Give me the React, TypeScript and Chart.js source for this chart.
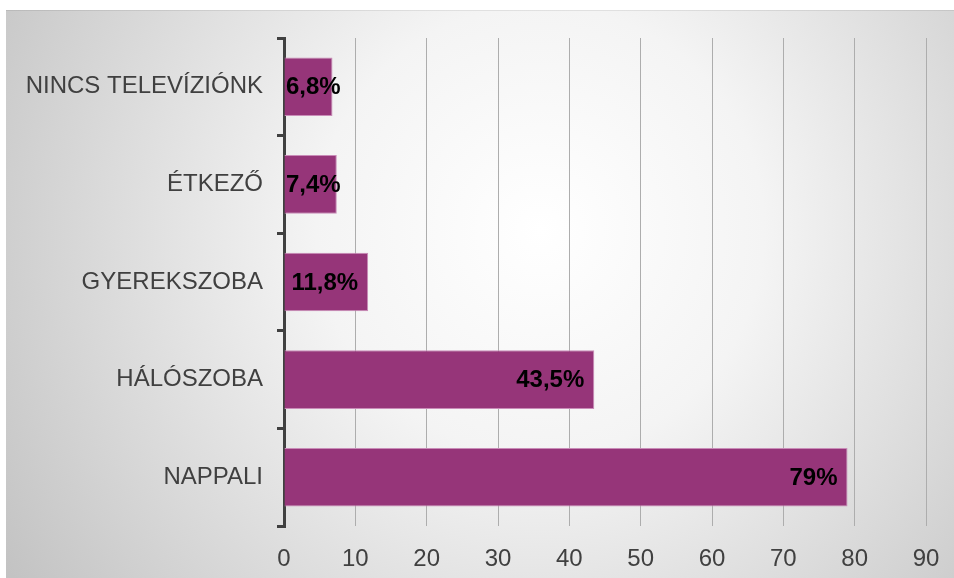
import React, { useEffect, useRef } from "react";
import { Chart, registerables } from "chart.js";

Chart.register(...registerables);

const categories = ["NINCS TELEVÍZIÓNK", "ÉTKEZŐ", "GYEREKSZOBA", "HÁLÓSZOBA", "NAPPALI"];
const values = [6.8, 7.4, 11.8, 43.5, 79];
const xMin = 0;
const xMax = 90;
const xStep = 10;

const FONT = "'Liberation Sans', Arial, sans-serif";

const backgroundPlugin = {
  id: "bgGradient",
  beforeDraw(chart: any) {
    const { ctx, width, height } = chart;
    ctx.save();
    ctx.fillStyle = "#ffffff";
    ctx.fillRect(0, 0, width, height);
    const cx = 540;
    const cy = 230;
    const g = ctx.createRadialGradient(cx, cy, 0, cx, cy, 640);
    g.addColorStop(0, "#ffffff");
    g.addColorStop(0.35, "#f4f4f4");
    g.addColorStop(1, "#c2c2c2");
    ctx.fillStyle = g;
    ctx.fillRect(6, 10, width - 6, height - 10);
    ctx.strokeStyle = "rgba(0,0,0,0.08)";
    ctx.lineWidth = 1;
    ctx.beginPath();
    ctx.moveTo(6, 10.5);
    ctx.lineTo(width, 10.5);
    ctx.stroke();
    ctx.restore();
  },
};

const labelPlugin = {
  id: "barLabels",
  afterDatasetsDraw(chart: any) {
    const { ctx } = chart;
    const meta = chart.getDatasetMeta(0);
    const left = chart.chartArea.left;
    ctx.save();
    ctx.font = `bold 24px ${FONT}`;
    ctx.fillStyle = "#000000";
    ctx.textBaseline = "middle";
    ctx.textAlign = "left";
    meta.data.forEach((bar: any, i: number) => {
      const text = String(values[i]).replace(".", ",") + "%";
      const w = ctx.measureText(text).width;
      let x = bar.x - 10 - w;
      if (x < left + 2) x = left + 2;
      ctx.fillText(text, x, bar.y + 1);
    });
    ctx.restore();
  },
};

export default function App() {
  const ref = useRef<HTMLCanvasElement | null>(null);

  useEffect(() => {
    document.body.style.margin = "0";
    const canvas = ref.current;
    if (!canvas) return;
    const chart = new Chart(canvas, {
      type: "bar",
      data: {
        labels: categories,
        datasets: [
          {
            data: values,
            backgroundColor: "#963579",
            borderColor: "#c98cb8",
            borderWidth: 1,
            categoryPercentage: 0.6,
            barPercentage: 1,
          },
        ],
      },
      options: {
        indexAxis: "y",
        responsive: false,
        animation: false,
        maintainAspectRatio: false,
        layout: { padding: { top: 38, right: 28, left: 0, bottom: 0 } },
        plugins: {
          legend: { display: false },
          title: { display: false },
          tooltip: { enabled: false },
        },
        scales: {
          x: {
            min: xMin,
            max: xMax,
            ticks: {
              stepSize: xStep,
              color: "#404040",
              font: { family: FONT, size: 24 },
              padding: 19,
            },
            grid: {
              color: "#adadad",
              lineWidth: 1,
              drawTicks: false,
            },
            border: { display: false },
            afterFit(scale: any) {
              scale.height = 52;
              scale.paddingRight = 0;
              scale.paddingLeft = 0;
            },
          },
          y: {
            ticks: {
              color: "#404040",
              font: { family: FONT, size: 24 },
              padding: 14,
            },
            grid: {
              offset: true,
              drawOnChartArea: false,
              drawTicks: true,
              tickLength: 7,
              color: "#404040",
              lineWidth: 3,
            },
            border: { display: true, color: "#404040", width: 3 },
            afterFit(scale: any) {
              scale.width = 284;
              scale.paddingTop = 0;
              scale.paddingBottom = 0;
            },
          },
        },
      } as any,
      plugins: [backgroundPlugin, labelPlugin],
    });
    return () => chart.destroy();
  }, []);

  return <canvas ref={ref} width={954} height={578} style={{ display: "block" }} />;
}
